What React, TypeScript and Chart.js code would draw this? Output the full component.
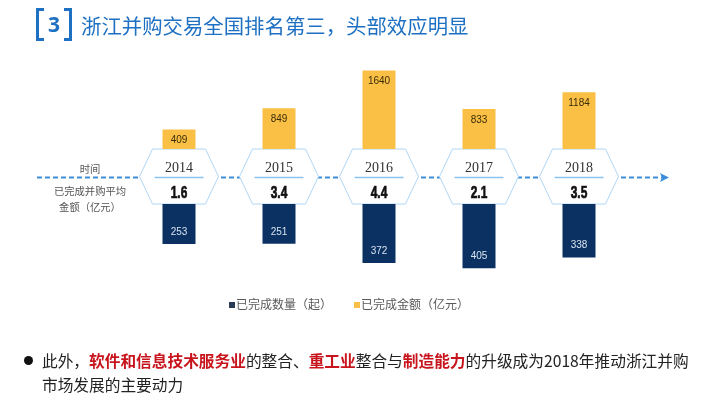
import React, { useEffect, useRef } from "react";
import { Chart, registerables } from "chart.js";

Chart.register(...registerables);

const years = ["2014", "2015", "2016", "2017", "2018"];
const amountValues = [409, 849, 1640, 833, 1184];
const countValues = [253, 251, 372, 405, 338];
const avgAmountLabels = ["1.6", "3.4", "4.4", "2.1", "3.5"];
const legendLabels = ["已完成数量（起）", "已完成金额（亿元）"];
const rowLabels = ["时间", "已完成并购平均", "金额（亿元）"];

const GOLD = "#FAC046";
const NAVY = "#0B3162";
const BLUE = "#1E70C2";
const CJK = '"Noto Sans CJK SC", "Noto Sans", sans-serif';

export default function App() {
  const ref = useRef<HTMLCanvasElement>(null);

  useEffect(() => {
    document.body.style.margin = "0";
    const canvas = ref.current;
    if (!canvas) return;

    const decor = {
      id: "decor",
      beforeDatasetsDraw(chart: any) {
        const ctx = chart.ctx;
        const xs = chart.scales.x;
        const top = chart.scales.yAmt.getPixelForValue(0);
        const bot = chart.scales.yCnt.getPixelForValue(0);
        const mid = (top + bot) / 2;
        const ly = mid + 1;
        ctx.save();
        // dashed time line
        ctx.strokeStyle = "#3C8EDB";
        ctx.lineWidth = 2;
        ctx.setLineDash([5, 3]);
        ctx.beginPath();
        ctx.moveTo(37, ly);
        ctx.lineTo(662, ly);
        ctx.stroke();
        ctx.setLineDash([]);
        ctx.fillStyle = "#3C8EDB";
        ctx.beginPath();
        ctx.moveTo(669, ly);
        ctx.lineTo(660, ly - 4.5);
        ctx.lineTo(662, ly);
        ctx.lineTo(660, ly + 4.5);
        ctx.closePath();
        ctx.fill();
        // hexagons
        const hw = 39.5;
        const inset = 13;
        years.forEach((yr, i) => {
          const cx = xs.getPixelForValue(i);
          ctx.beginPath();
          ctx.moveTo(cx - hw, mid);
          ctx.lineTo(cx - hw + inset, top);
          ctx.lineTo(cx + hw - inset, top);
          ctx.lineTo(cx + hw, mid);
          ctx.lineTo(cx + hw - inset, bot);
          ctx.lineTo(cx - hw + inset, bot);
          ctx.closePath();
          ctx.fillStyle = "#ffffff";
          ctx.fill();
          ctx.strokeStyle = "#AFD6F6";
          ctx.lineWidth = 1;
          ctx.stroke();
          ctx.strokeStyle = "#8CC2EE";
          ctx.lineWidth = 1.5;
          ctx.beginPath();
          ctx.moveTo(cx - hw + 15, ly);
          ctx.lineTo(cx + hw - 15, ly);
          ctx.stroke();
          ctx.textAlign = "center";
          ctx.textBaseline = "middle";
          ctx.fillStyle = "#333333";
          ctx.font = '14px "Liberation Serif", "DejaVu Serif", serif';
          ctx.fillText(yr, cx, top + 19);
          // condensed heavy value label
          ctx.save();
          ctx.translate(cx, top + 44);
          ctx.scale(0.7, 1);
          ctx.fillStyle = "#111111";
          ctx.strokeStyle = "#111111";
          ctx.lineWidth = 0.7;
          ctx.font = 'bold 17px "Liberation Sans", Arial, sans-serif';
          ctx.fillText(avgAmountLabels[i], 0, 0);
          ctx.strokeText(avgAmountLabels[i], 0, 0);
          ctx.restore();
        });
        ctx.restore();
      },
      afterDatasetsDraw(chart: any) {
        const ctx = chart.ctx;
        ctx.save();
        ctx.textAlign = "center";
        ctx.textBaseline = "middle";
        ctx.font = '10px "Liberation Sans", Arial, sans-serif';
        const goldMeta = chart.getDatasetMeta(1);
        goldMeta.data.forEach((el: any, i: number) => {
          ctx.fillStyle = "#3A2C08";
          ctx.fillText(String(amountValues[i]), el.x, el.y + 11);
        });
        const navyMeta = chart.getDatasetMeta(0);
        navyMeta.data.forEach((el: any, i: number) => {
          ctx.fillStyle = "#D9E3EF";
          ctx.fillText(String(countValues[i]), el.x, el.y - 12);
        });
        ctx.restore();
      },
    };

    const chart = new Chart(canvas, {
      type: "bar",
      data: {
        labels: years,
        datasets: [
          {
            label: legendLabels[0],
            data: countValues,
            backgroundColor: NAVY,
            yAxisID: "yCnt",
            grouped: false,
            categoryPercentage: 1,
            barPercentage: 0.33,
          } as any,
          {
            label: legendLabels[1],
            data: amountValues,
            backgroundColor: GOLD,
            yAxisID: "yAmt",
            grouped: false,
            categoryPercentage: 1,
            barPercentage: 0.33,
          } as any,
        ],
      },
      options: {
        responsive: false,
        animation: false,
        layout: { padding: { left: 129, right: 91, top: 62, bottom: 121 } },
        plugins: { legend: { display: false }, tooltip: { enabled: false } },
        scales: {
          x: { display: false, offset: true, grid: { display: false } },
          yCnt: {
            type: "linear",
            position: "left",
            display: false,
            stack: "v",
            stackWeight: 72,
            weight: 1,
            min: 0,
            max: 454,
            reverse: true,
          },
          yMid: {
            type: "linear",
            position: "left",
            display: false,
            stack: "v",
            stackWeight: 55,
            weight: 2,
            min: 0,
            max: 1,
          },
          yAmt: {
            type: "linear",
            position: "left",
            display: false,
            stack: "v",
            stackWeight: 87,
            weight: 3,
            min: 0,
            max: 1816,
          },
        } as any,
      },
      plugins: [decor],
    });
    return () => chart.destroy();
  }, []);

  const abs = (s: React.CSSProperties): React.CSSProperties => ({ position: "absolute", whiteSpace: "nowrap", ...s });

  return (
    <div style={{ position: "fixed", left: 0, top: 0, width: 720, height: 397, background: "#fff", overflow: "hidden", fontFamily: CJK }}>
      <canvas ref={ref} width={720} height={397} style={{ position: "absolute", left: 0, top: 0 }} />
      {/* title */}
      <div style={abs({ left: 36, top: 8, width: 5, height: 27, border: `3px solid ${BLUE}`, borderRight: "none" })} />
      <div style={abs({ left: 64, top: 8, width: 5, height: 27, border: `3px solid ${BLUE}`, borderLeft: "none" })} />
      <div style={abs({ left: 46, top: 10, width: 16, lineHeight: "28px", fontSize: 21, fontWeight: 700, color: BLUE, textAlign: "center", fontFamily: '"Open Sans", "Noto Sans", sans-serif' })}>3</div>
      <div style={abs({ left: 81, top: 10, lineHeight: "30px", fontSize: 20.4, color: BLUE })}>浙江并购交易全国排名第三，头部效应明显</div>
      {/* row labels */}
      <div style={abs({ left: 40, top: 161, width: 100, textAlign: "center", fontSize: 10.3, lineHeight: "16px", color: "#555" })}>{rowLabels[0]}</div>
      <div style={abs({ left: 40, top: 183, width: 100, textAlign: "center", fontSize: 10.3, lineHeight: "16px", color: "#555" })}>{rowLabels[1]}</div>
      <div style={abs({ left: 40, top: 199, width: 100, textAlign: "center", fontSize: 10.3, lineHeight: "16px", color: "#555" })}>{rowLabels[2]}</div>
      {/* legend */}
      <div style={abs({ left: 229, top: 302, width: 6, height: 6, background: "#2B3A55" })} />
      <div style={abs({ left: 236, top: 296, fontSize: 12, lineHeight: "16px", color: "#595959" })}>{legendLabels[0]}</div>
      <div style={abs({ left: 354, top: 302, width: 6, height: 6, background: GOLD })} />
      <div style={abs({ left: 361, top: 296, fontSize: 12, lineHeight: "16px", color: "#595959" })}>{legendLabels[1]}</div>
      {/* bullet text */}
      <div style={abs({ left: 24, top: 356, width: 9, height: 9, borderRadius: "50%", background: "#111" })} />
      <div style={abs({ left: 42, top: 349, fontSize: 15.7, lineHeight: "24px", color: "#222" })}>
        此外，<span style={{ color: "#C8141C", fontWeight: 700 }}>软件和信息技术服务业</span>的整合、
        <span style={{ color: "#C8141C", fontWeight: 700 }}>重工业</span>整合与
        <span style={{ color: "#C8141C", fontWeight: 700 }}>制造能力</span>的升级成为2018年推动浙江并购
      </div>
      <div style={abs({ left: 42, top: 373, fontSize: 15.7, lineHeight: "24px", color: "#222" })}>市场发展的主要动力</div>
    </div>
  );
}
